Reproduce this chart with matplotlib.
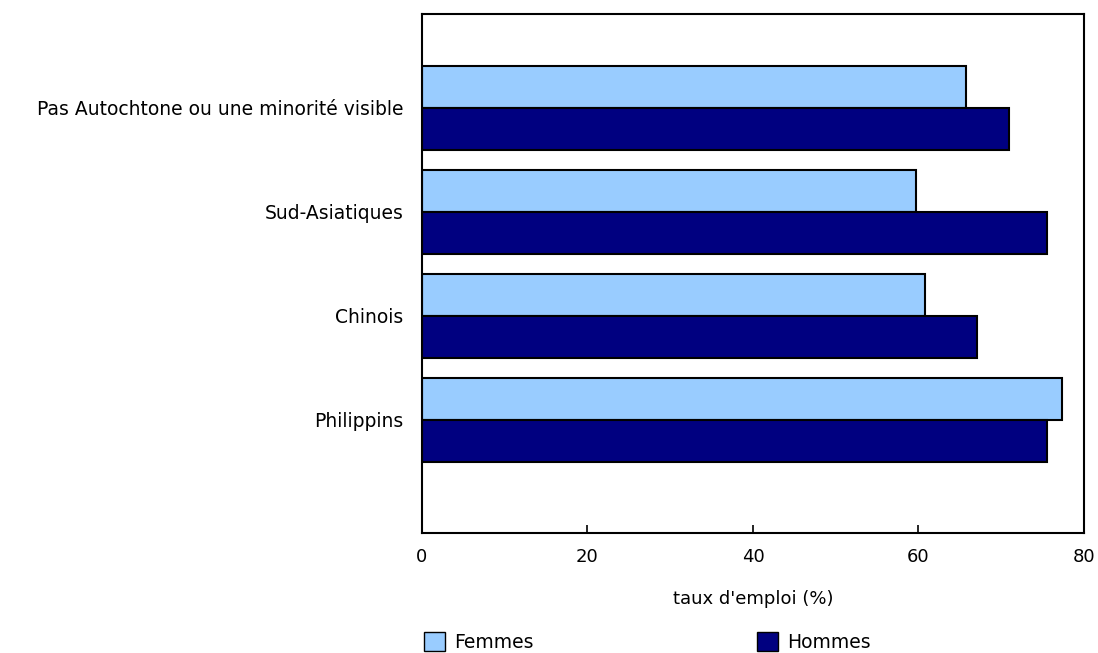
import numpy as np
import matplotlib.pyplot as plt
from matplotlib.patches import Patch

# Data
categories = ['Pas Autochtone ou une minorité visible', 'Sud-Asiatiques', 'Chinois', 'Philippins']
femmes = [65.7, 59.7, 60.8, 77.3]
hommes = [70.9, 75.5, 67.1, 75.5]
xticks = [0, 20, 40, 60, 80]

col_f = '#99CCFF'
col_h = '#000080'

plt.rcParams['font.family'] = ['DejaVu Sans']

fig = plt.figure(figsize=(10.98, 6.53), dpi=100)
ax = fig.add_axes([0.3843, 0.1838, 0.9872 - 0.3843, 0.9786 - 0.1838])

n = len(categories)
y = np.arange(n)[::-1]
h = 0.404

ax.barh(y + h / 2, femmes, height=h, color=col_f, edgecolor='black', linewidth=1.5, label='Femmes')
ax.barh(y - h / 2, hommes, height=h, color=col_h, edgecolor='black', linewidth=1.5, label='Hommes')

ax.set_xlim(0, 80)
ax.set_ylim(-1.087, n - 1 + 0.904)
ax.set_xticks(xticks)
ax.set_xticklabels([str(t) for t in xticks], fontsize=13)
ax.set_yticks(y)
ax.set_yticklabels(categories, fontsize=13.5)
ax.tick_params(axis='x', direction='in', length=6, width=1.2, pad=11)
ax.tick_params(axis='y', length=0, pad=13.5)
for s in ax.spines.values():
    s.set_linewidth(1.5)
ax.set_xlabel("taux d'emploi (%)", fontsize=13, labelpad=17)

# Legend under the chart
fig.legend(handles=[Patch(facecolor=col_f, edgecolor='black', label='Femmes')],
           loc='lower left', bbox_to_anchor=(0.371, -0.024), frameon=False,
           fontsize=13.5, handlelength=1.1, handleheight=1.2, handletextpad=0.5)
fig.legend(handles=[Patch(facecolor=col_h, edgecolor='black', label='Hommes')],
           loc='lower left', bbox_to_anchor=(0.674, -0.024), frameon=False,
           fontsize=13.5, handlelength=1.1, handleheight=1.2, handletextpad=0.5)

fig.savefig('out.png', dpi=100)
